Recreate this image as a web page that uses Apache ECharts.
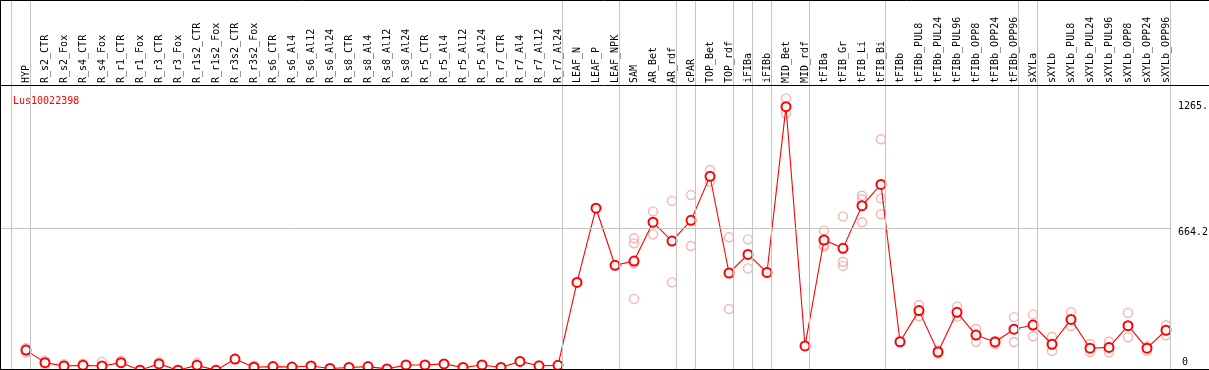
<!DOCTYPE html>
<html>
<head>
<meta charset="utf-8">
<script src="https://cdn.jsdelivr.net/npm/echarts@6/dist/echarts.min.js"></script>
<style>
html,body{margin:0;padding:0;background:#fff;}
#chart{width:1209px;height:370px;}
</style>
</head>
<body>
<div id="chart"></div>
<script>
const title = 'Lus10022398';

const categories = ['HYP','R_s2_CTR','R_s2_Fox','R_s4_CTR','R_s4_Fox','R_r1_CTR','R_r1_Fox','R_r3_CTR','R_r3_Fox',
  'R_r1s2_CTR','R_r1s2_Fox','R_r3s2_CTR','R_r3s2_Fox','R_s6_CTR','R_s6_Al4','R_s6_Al12','R_s6_Al24',
  'R_s8_CTR','R_s8_Al4','R_s8_Al12','R_s8_Al24','R_r5_CTR','R_r5_Al4','R_r5_Al12','R_r5_Al24',
  'R_r7_CTR','R_r7_Al4','R_r7_Al12','R_r7_Al24','LEAF_N','LEAF_P','LEAF_NPK','SAM','AR_Bet','AR_rdf',
  'cPAR','TOP_Bet','TOP_rdf','iFIBa','iFIBb','MID_Bet','MID_rdf','tFIBa','tFIB_Gr','tFIB_Li','tFIB_Bi',
  'tFIBb','tFIBb_PUL8','tFIBb_PUL24','tFIBb_PUL96','tFIBb_OPP8','tFIBb_OPP24','tFIBb_OPP96',
  'sXYLa','sXYLb','sXYLb_PUL8','sXYLb_PUL24','sXYLb_PUL96','sXYLb_OPP8','sXYLb_OPP24','sXYLb_OPP96'];

const expression = [100,40,24,27,24,40,4,34,4,27,3,57,18,21,19,24,12,17,21,10,29,29,34,17,29,17,46,25,27,
  424,779,506,526,712,622,721,932,469,558,472,1265,120,627,587,791,893,
  140,289,91,281,172,139,200,220,128,247,109,113,217,109,195];

const replicates = [[109,89],[48,29],[32],[35],[45],[49],[],[42],[],[38],[],[],[25],[],[],[],[],[],[],[],[],[],[],[],[],[],[],[],[],
  [],[],[],[635,611,515,345],[764,654],[814,424],[842,598],[962,906],[640,297],[630,491],[469],[1305,1233],[],
  [673,603,595],[740,523,503],[839,822,712],[1109,826,750],
  [140],[316,263],[98,84],[308,260],[201,140],[144,129],[258,139],[271,166],[163,96],[282,215],[129,91],[140,89],[278,161],[116,96],[219,171]];

// last index of each sample group (-1 = before first)
const groupEnds = [-1,0,28,31,34,35,37,38,39,41,45,52,53,60];

const yTickValues = [0, 664.2, 1265];
const yTickLabels = ['0', '664.2', '1265.'];
const midGridValue = 684.4;

const chart = echarts.init(document.getElementById('chart'), null, {renderer: 'canvas'});

const mainData = expression.map((v, i) => [i, v]);
const repData = [];
replicates.forEach((arr, i) => arr.forEach(v => repData.push([i, v])));

const sepOffset = 4 / 19;
const mono = 'DejaVu Sans Mono';

chart.setOption({
  animation: false,
  backgroundColor: '#ffffff',
  title: {
    text: title, left: 8, top: 91,
    textStyle: {fontFamily: mono, fontSize: 10, fontWeight: 'normal', color: '#ff0000'}
  },
  grid: {left: 0, top: 0, width: 1170, height: 371, containLabel: false, outerBoundsMode: 'none'},
  xAxis: {
    type: 'value', position: 'top', offset: -85,
    min: -26 / 19, max: (1170 - 26) / 19,
    axisLine: {show: false}, axisTick: {show: false}, splitLine: {show: false},
    axisLabel: {
      customValues: categories.map((c, i) => i),
      formatter: v => categories[Math.round(v)],
      rotate: 90, margin: 2,
      fontFamily: mono, fontSize: 10, color: '#000'
    }
  },
  yAxis: {
    type: 'value', position: 'right', min: 0, max: 1775.6,
    axisLine: {show: false}, axisTick: {show: false}, splitLine: {show: false},
    axisLabel: {
      customValues: yTickValues,
      margin: 8,
      formatter: v => {
        const k = yTickValues.indexOf(v);
        const s = yTickLabels[k >= 0 ? k : 0];
        return v === 0 ? '{z|' + s + '}' : '{n|' + s + '}';
      },
      rich: {
        n: {fontFamily: mono, fontSize: 10, color: '#000'},
        z: {fontFamily: mono, fontSize: 10, color: '#000', padding: [0, 0, 18, 4]}
      }
    }
  },
  series: [
    {
      type: 'scatter', name: 'replicates', data: repData, z: 2,
      symbol: 'circle', symbolSize: 9,
      itemStyle: {color: 'rgba(0,0,0,0)', borderColor: '#f2a0a0', borderWidth: 1.4},
      silent: true,
      markLine: {
        silent: true, symbol: 'none', animation: false,
        label: {show: false},
        lineStyle: {color: '#c4c4c4', width: 1, type: 'solid'},
        data: groupEnds.map(b => ({xAxis: b + sepOffset})).concat([{yAxis: midGridValue}])
      }
    },
    {
      type: 'line', name: title, data: mainData, z: 3,
      symbol: 'emptyCircle', symbolSize: 9, showAllSymbol: true,
      lineStyle: {color: '#ff0000', width: 1.1},
      itemStyle: {color: '#ff0000', borderColor: '#ff0000', borderWidth: 1.4},
      clip: false
    }
  ],
  graphic: [
    {type: 'line', z: 100, silent: true, shape: {x1: 0, y1: 0.5, x2: 1209, y2: 0.5}, style: {stroke: '#000', lineWidth: 1}},
    {type: 'line', z: 100, silent: true, shape: {x1: 0.5, y1: 0, x2: 0.5, y2: 370}, style: {stroke: '#000', lineWidth: 1}},
    {type: 'line', z: 100, silent: true, shape: {x1: 0, y1: 85.5, x2: 1209, y2: 85.5}, style: {stroke: '#000', lineWidth: 1}},
    {type: 'line', z: 100, silent: true, shape: {x1: 0, y1: 369.5, x2: 1209, y2: 369.5}, style: {stroke: '#000', lineWidth: 1}}
  ]
});
</script>
</body>
</html>
